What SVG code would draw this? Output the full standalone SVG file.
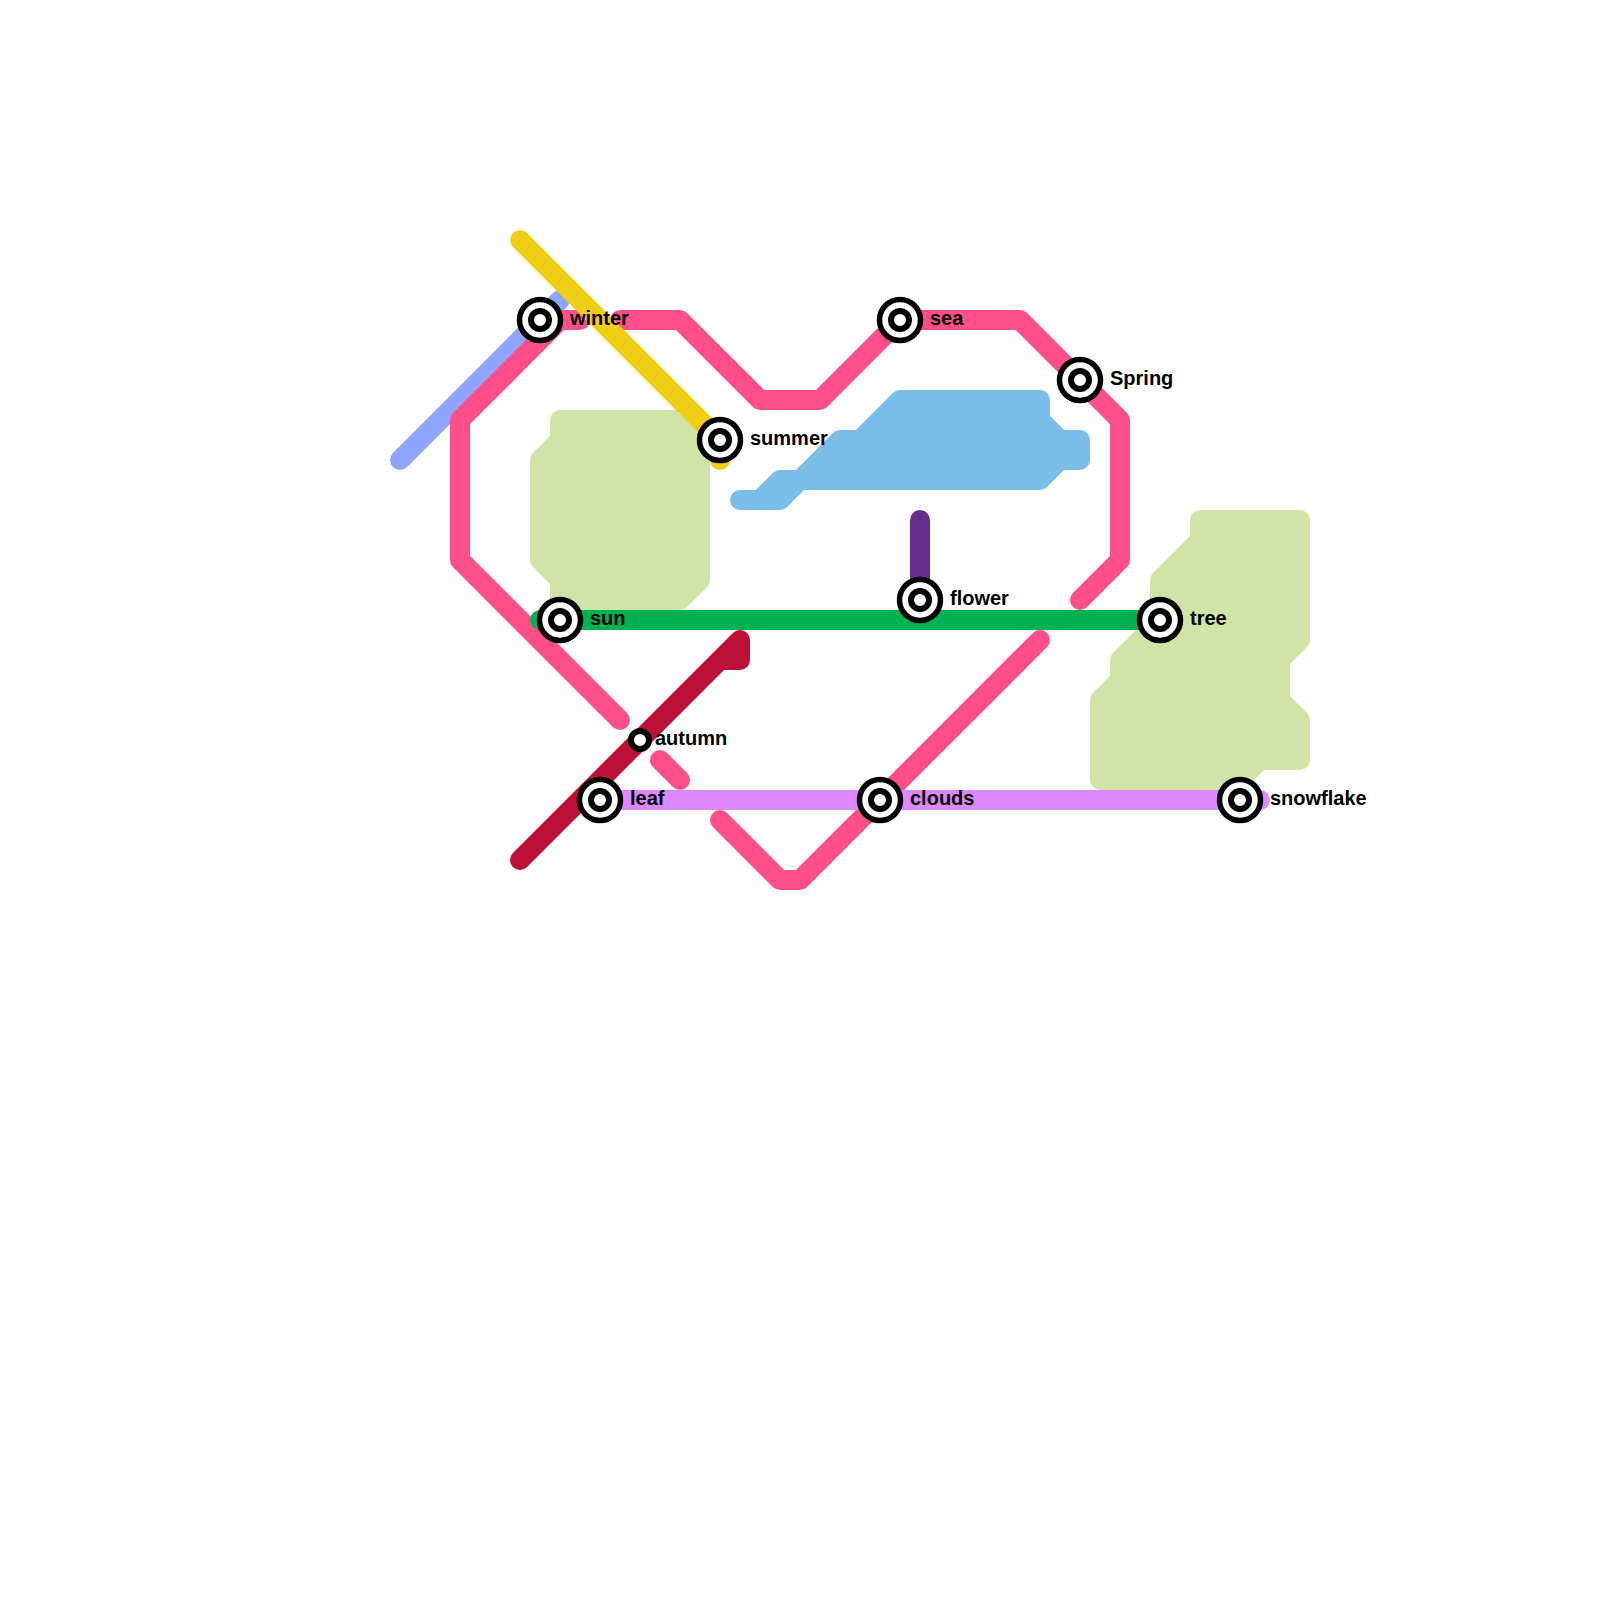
<svg xmlns="http://www.w3.org/2000/svg" width="1600" height="1600" viewBox="0 0 1600 1600">
<style>
.l{fill:none;stroke-width:20;stroke-linecap:round;stroke-linejoin:round}
.a{stroke-width:20;stroke-linejoin:round}
.g{fill:#cfe4a6;stroke:#cfe4a6}
.b{fill:#7abde8;stroke:#7abde8}
.o{fill:#fff;stroke:#000;stroke-width:5.5}
.i{fill:#fff;stroke:#000;stroke-width:6}
text{font-family:"Liberation Sans",Arial,sans-serif;font-size:20px;font-weight:bold;fill:#000}
</style>
<rect width="1600" height="1600" fill="#fff"/>
<g id="areas">
<polygon class="a g" points="560,420 680,420 700,440 700,580 680,600 560,600 560,580 540,560 540,460 560,440"/>
<polygon class="a g" points="1200,520 1300,520 1300,640 1280,660 1280,700 1300,720 1300,760 1260,760 1240,780 1100,780 1100,700 1120,680 1120,660 1160,620 1160,580 1200,540"/>
<polygon class="a b" points="740,500 760,500 780,480 800,480 840,440 860,440 900,400 1040,400 1040,420 1060,440 1080,440 1080,460 1060,460 1040,480 800,480 780,500"/>
</g>
<g id="connectors">
<path class="l" stroke="#8ea6ff" d="M400,460 L560,300"/>
<path class="l" stroke="#ff4f8b" d="M580,320 L560,320 L460,420 L460,560 L620,720"/>
<path class="l" stroke="#ff4f8b" d="M620,320 L680,320 L760,400 L820,400 L900,320 L1020,320 L1120,420 L1120,560 L1080,600"/>
<path class="l" stroke="#ff4f8b" d="M660,760 L680,780"/>
<path class="l" stroke="#ff4f8b" d="M720,820 L780,880 L800,880 L880,800 L1040,640"/>
<path class="l" stroke="#f0ce15" d="M520,240 L720,440 L720,460"/>
<path class="l" stroke="#662c90" d="M920,520 L920,600"/>
<path class="l" stroke="#00b251" d="M540,620 L1160,620"/>
<path class="l" stroke="#bd1038" d="M520,860 L740,640 L740,660 L720,660"/>
<path class="l" stroke="#dd88ff" d="M600,800 L1260,800"/>
</g>
<g id="winter"><circle class="o" cx="540" cy="320" r="20.5"/><circle class="i" cx="540" cy="320" r="9"/><text x="570" y="325">winter</text></g>
<g id="summer"><circle class="o" cx="720" cy="440" r="20.5"/><circle class="i" cx="720" cy="440" r="9"/><text x="750" y="445">summer</text></g>
<g id="sea"><circle class="o" cx="900" cy="320" r="20.5"/><circle class="i" cx="900" cy="320" r="9"/><text x="930" y="325">sea</text></g>
<g id="spring"><circle class="o" cx="1080" cy="380" r="20.5"/><circle class="i" cx="1080" cy="380" r="9"/><text x="1110" y="385">Spring</text></g>
<g id="sun"><circle class="o" cx="560" cy="620" r="20.5"/><circle class="i" cx="560" cy="620" r="9"/><text x="590" y="625">sun</text></g>
<g id="flower"><circle class="o" cx="920" cy="600" r="20.5"/><circle class="i" cx="920" cy="600" r="9"/><text x="950" y="605">flower</text></g>
<g id="tree"><circle class="o" cx="1160" cy="620" r="20.5"/><circle class="i" cx="1160" cy="620" r="9"/><text x="1190" y="625">tree</text></g>
<g id="autumn"><circle class="i" cx="640" cy="740" r="9"/><text x="655" y="745">autumn</text></g>
<g id="leaf"><circle class="o" cx="600" cy="800" r="20.5"/><circle class="i" cx="600" cy="800" r="9"/><text x="630" y="805">leaf</text></g>
<g id="clouds"><circle class="o" cx="880" cy="800" r="20.5"/><circle class="i" cx="880" cy="800" r="9"/><text x="910" y="805">clouds</text></g>
<g id="snowflake"><circle class="o" cx="1240" cy="800" r="20.5"/><circle class="i" cx="1240" cy="800" r="9"/><text x="1270" y="805">snowflake</text></g>
</svg>
